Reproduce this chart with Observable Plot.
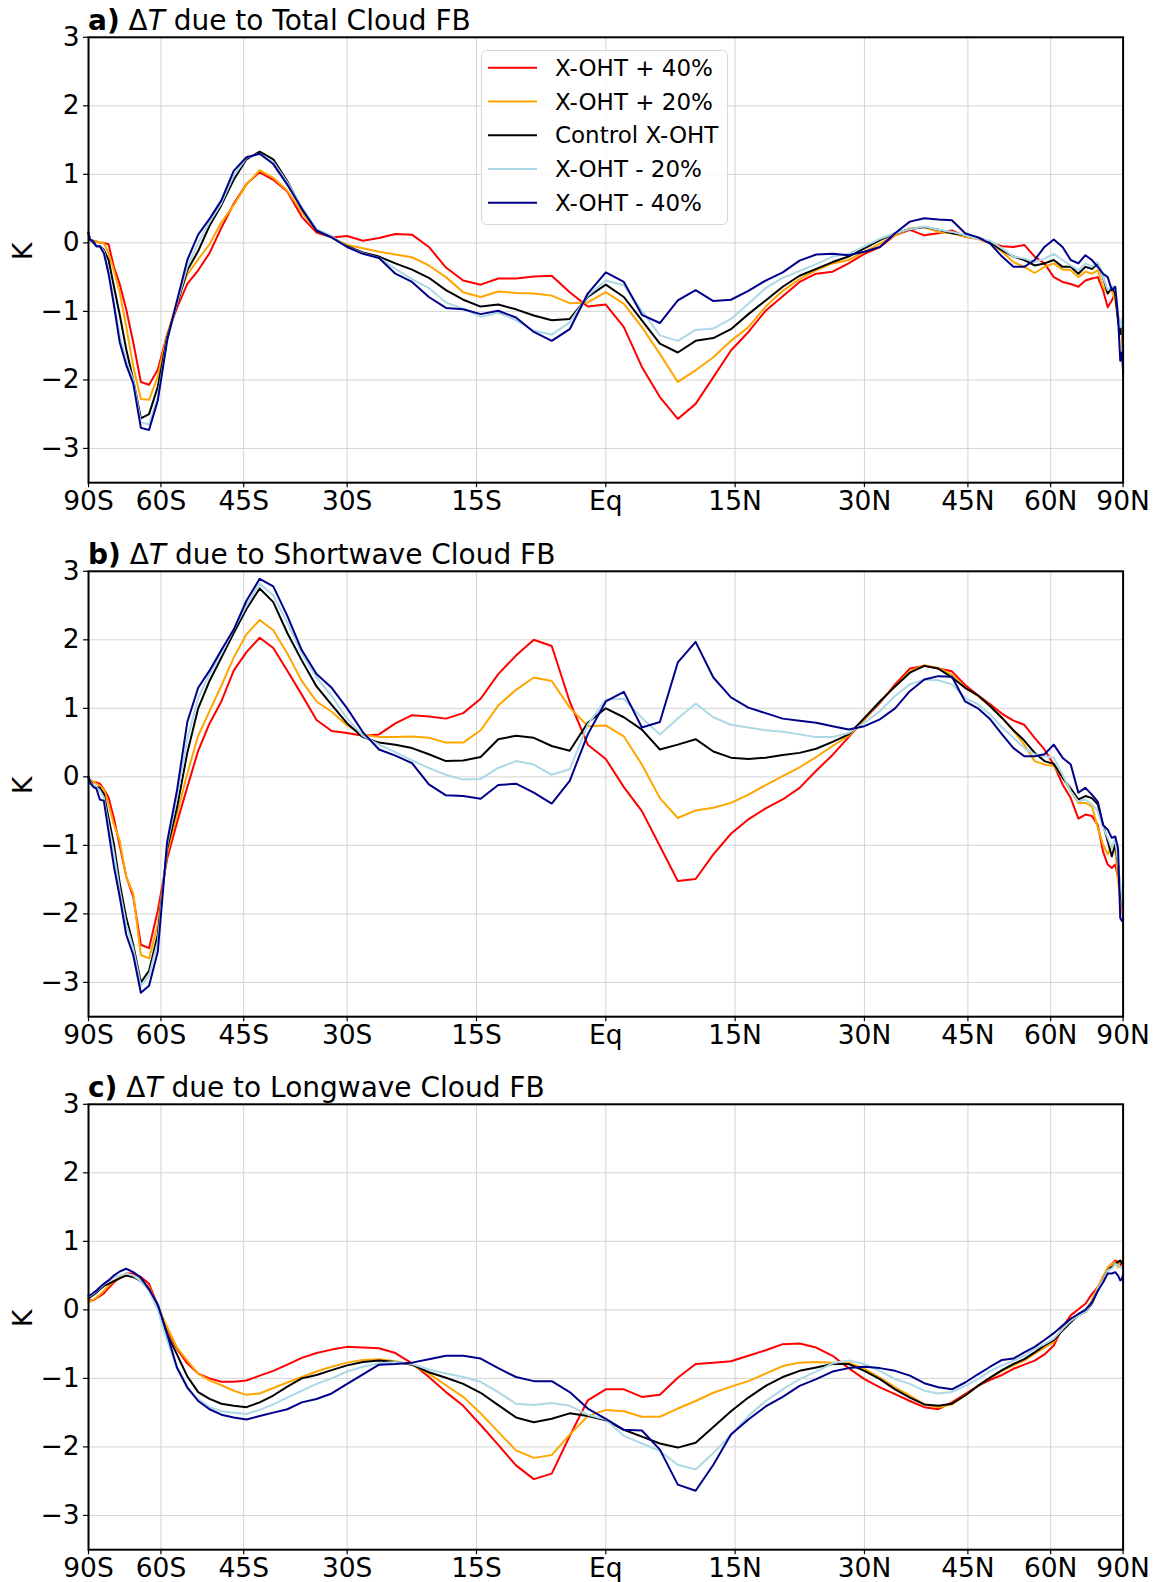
<!DOCTYPE html>
<html>
<head>
<meta charset="utf-8">
<script src="https://cdn.jsdelivr.net/npm/d3@7"></script>
<script src="https://cdn.jsdelivr.net/npm/@observablehq/plot@0.6"></script>
<style>
  html, body { margin: 0; padding: 0; background: #fff; overflow: hidden; }
  #page { position: relative; width: 1161px; height: 1582px; font-family: "DejaVu Sans", sans-serif; }
  .panel { position: absolute; left: 0; }
</style>
</head>
<body>
<div id="page"></div>
<script>
// Latitudes (degrees) at which every profile is given
const LAT = [-90,-86,-82,-80,-78,-76,-74,-72,-70,-68,-66,-64,-62,-60,
  -58,-56,-54,-52,-50,-48,-46,-44,-42,-40,-38,-36,-34,-32,
  -30,-28,-26,-24,-22,-20,-18,-16,-14,-12,-10,-8,-6,-4,
  -2,0,2,4,6,8,10,12,14,16,18,20,22,24,
  26,28,30,32,34,36,38,40,42,44,46,48,50,52,
  54,56,58,60,62,64,66,68,70,72,74,76,78,80,
  82,84,86,88,90];

const SERIES = ["X-OHT + 40%", "X-OHT + 20%", "Control X-OHT", "X-OHT - 20%", "X-OHT - 40%"];
const COLORS = ["red", "orange", "black", "lightblue", "darkblue"];

// x-axis ticks, placed on the sine-of-latitude axis
const TICK_POS = [-1, -0.86, -0.7, -0.5, -0.25, 0, 0.25, 0.5, 0.7, 0.86, 1];
const TICK_LABELS = ["90S", "60S", "45S", "30S", "15S", "Eq", "15N", "30N", "45N", "60N", "90N"];
const Y_TICKS = [-3, -2, -1, 0, 1, 2, 3];

// a) Delta T due to total cloud feedback (K)
const totP40 = [0.15,0.05,0.03,0.02,0.0,0.0,-0.02,-0.35,-0.6,-0.97,-1.45,-2.03,-2.07,-1.85,
  -1.34,-0.95,-0.6,-0.4,-0.15,0.22,0.57,0.86,1.03,0.92,0.75,0.38,0.15,0.08,
  0.1,0.03,0.07,0.13,0.12,-0.06,-0.36,-0.55,-0.61,-0.52,-0.52,-0.49,-0.48,-0.72,
  -0.93,-0.9,-1.23,-1.81,-2.25,-2.57,-2.35,-1.96,-1.57,-1.3,-0.99,-0.78,-0.57,-0.45,
  -0.42,-0.3,-0.16,-0.06,0.11,0.19,0.11,0.14,0.18,0.09,0.06,0.0,-0.05,-0.06,
  -0.03,-0.2,-0.3,-0.5,-0.57,-0.6,-0.64,-0.55,-0.52,-0.5,-0.69,-0.94,-0.84,-0.74,
  -1.08,-1.33,-1.3,-1.5,-1.8];
const totP20 = [0.12,0.05,0.03,0.02,0.0,0.0,-0.15,-0.4,-0.72,-1.22,-1.8,-2.28,-2.29,-1.95,
  -1.34,-0.85,-0.46,-0.24,-0.02,0.3,0.55,0.85,1.06,0.95,0.76,0.45,0.18,0.08,
  -0.03,-0.08,-0.13,-0.17,-0.21,-0.33,-0.5,-0.72,-0.79,-0.71,-0.73,-0.74,-0.77,-0.88,
  -0.87,-0.72,-0.89,-1.23,-1.62,-2.03,-1.86,-1.67,-1.43,-1.23,-0.93,-0.7,-0.53,-0.4,
  -0.3,-0.25,-0.13,-0.01,0.11,0.21,0.23,0.16,0.14,0.09,0.06,-0.01,-0.13,-0.28,
  -0.35,-0.44,-0.35,-0.3,-0.39,-0.4,-0.5,-0.42,-0.45,-0.4,-0.64,-0.74,-0.69,-0.84,
  -1.13,-1.33,-1.3,-1.5,-1.7];
const totCtl = [0.15,0.05,0.0,-0.05,-0.05,-0.1,-0.25,-0.63,-1.05,-1.55,-2.0,-2.56,-2.5,-2.1,
  -1.38,-0.9,-0.4,-0.12,0.25,0.55,0.92,1.22,1.33,1.22,0.9,0.5,0.18,0.08,
  -0.05,-0.14,-0.2,-0.3,-0.39,-0.51,-0.69,-0.83,-0.93,-0.9,-0.97,-1.06,-1.13,-1.11,
  -0.79,-0.61,-0.79,-1.13,-1.47,-1.6,-1.43,-1.39,-1.26,-1.04,-0.84,-0.64,-0.48,-0.38,
  -0.28,-0.2,-0.08,0.04,0.14,0.2,0.23,0.19,0.14,0.11,0.08,0.01,-0.11,-0.2,
  -0.25,-0.33,-0.3,-0.25,-0.35,-0.35,-0.45,-0.35,-0.38,-0.3,-0.5,-0.74,-0.64,-0.74,
  -1.13,-1.33,-1.2,-1.4,-1.9];
const totM20 = [0.15,0.05,0.02,-0.05,-0.05,-0.12,-0.4,-0.85,-1.35,-1.72,-2.0,-2.62,-2.65,-2.25,
  -1.42,-0.88,-0.35,0.0,0.3,0.58,0.98,1.24,1.3,1.18,0.88,0.52,0.2,0.1,
  -0.06,-0.15,-0.22,-0.38,-0.53,-0.66,-0.87,-0.96,-1.08,-1.02,-1.13,-1.28,-1.34,-1.16,
  -0.77,-0.55,-0.62,-0.99,-1.35,-1.43,-1.27,-1.25,-1.11,-0.89,-0.66,-0.51,-0.41,-0.31,
  -0.2,-0.16,-0.05,0.06,0.14,0.2,0.24,0.19,0.16,0.11,0.06,0.03,-0.08,-0.2,
  -0.23,-0.28,-0.23,-0.16,-0.25,-0.33,-0.4,-0.3,-0.35,-0.28,-0.5,-0.69,-0.64,-0.64,
  -1.03,-1.23,-1.1,-1.3,-1.7];
const totM40 = [0.15,0.05,0.02,-0.05,-0.05,-0.15,-0.45,-0.9,-1.45,-1.78,-2.05,-2.7,-2.73,-2.3,
  -1.43,-0.85,-0.25,0.12,0.35,0.62,1.05,1.25,1.3,1.15,0.85,0.5,0.18,0.08,
  -0.06,-0.16,-0.22,-0.45,-0.57,-0.79,-0.95,-0.97,-1.04,-0.99,-1.09,-1.3,-1.43,-1.26,
  -0.74,-0.43,-0.57,-1.05,-1.17,-0.84,-0.69,-0.85,-0.83,-0.7,-0.55,-0.43,-0.26,-0.17,
  -0.16,-0.18,-0.13,-0.06,0.14,0.31,0.36,0.34,0.33,0.14,0.08,-0.01,-0.2,-0.35,
  -0.35,-0.25,-0.06,0.05,-0.06,-0.25,-0.3,-0.18,-0.25,-0.35,-0.45,-0.5,-0.69,-0.64,
  -1.08,-1.72,-1.6,-1.8,-1.9];

// b) Delta T due to shortwave cloud feedback (K)
const swP40 = [0.0,-0.05,-0.08,-0.08,-0.1,-0.18,-0.3,-0.6,-1.0,-1.45,-1.75,-2.45,-2.5,-1.95,
  -1.2,-0.67,-0.15,0.38,0.78,1.1,1.55,1.82,2.03,1.88,1.55,1.2,0.83,0.67,
  0.64,0.6,0.62,0.78,0.9,0.88,0.85,0.93,1.14,1.5,1.77,2.0,1.91,1.1,
  0.47,0.26,-0.15,-0.5,-1.01,-1.52,-1.49,-1.13,-0.83,-0.62,-0.46,-0.33,-0.16,0.09,
  0.32,0.58,0.84,1.08,1.35,1.58,1.62,1.58,1.54,1.34,1.19,1.06,0.92,0.82,
  0.76,0.57,0.4,0.18,-0.11,-0.31,-0.61,-0.55,-0.57,-0.7,-1.09,-1.28,-1.33,-1.28,
  -1.47,-1.67,-1.8,-2.0,-2.1];
const swP20 = [-0.03,-0.05,-0.07,-0.1,-0.13,-0.18,-0.4,-0.69,-0.93,-1.46,-1.7,-2.6,-2.65,-2.15,
  -1.12,-0.55,0.05,0.6,0.96,1.33,1.74,2.08,2.29,2.14,1.8,1.4,1.1,0.95,
  0.75,0.62,0.58,0.58,0.59,0.57,0.5,0.5,0.68,1.04,1.27,1.45,1.4,1.01,
  0.74,0.75,0.59,0.18,-0.31,-0.6,-0.49,-0.45,-0.38,-0.26,-0.12,0.01,0.14,0.29,
  0.45,0.6,0.84,1.1,1.32,1.54,1.63,1.59,1.49,1.3,1.18,1.03,0.86,0.67,
  0.47,0.23,0.18,0.16,-0.01,-0.21,-0.38,-0.38,-0.43,-0.74,-0.99,-1.13,-0.99,-1.04,
  -1.52,-1.77,-1.85,-1.95,-2.0];
const swCtl = [0.0,-0.05,-0.13,-0.15,-0.16,-0.25,-0.6,-0.98,-1.55,-2.05,-2.45,-3.0,-2.83,-2.3,
  -1.05,-0.45,0.35,1.0,1.4,1.74,2.1,2.45,2.75,2.55,2.1,1.7,1.32,1.05,
  0.78,0.58,0.5,0.47,0.42,0.33,0.23,0.24,0.29,0.55,0.6,0.57,0.45,0.38,
  0.79,1.0,0.87,0.69,0.4,0.47,0.55,0.37,0.28,0.26,0.28,0.32,0.35,0.41,
  0.51,0.62,0.86,1.1,1.32,1.52,1.62,1.58,1.45,1.3,1.19,1.03,0.86,0.68,
  0.53,0.35,0.23,0.19,-0.01,-0.17,-0.33,-0.28,-0.31,-0.4,-0.7,-0.94,-1.16,-0.99,
  -1.28,-1.67,-1.8,-1.9,-1.95];
const swM20 = [0.0,-0.07,-0.13,-0.15,-0.2,-0.3,-0.7,-1.1,-1.65,-2.15,-2.5,-3.05,-2.9,-2.4,
  -1.0,-0.3,0.55,1.15,1.5,1.8,2.15,2.5,2.82,2.65,2.25,1.8,1.45,1.18,
  0.85,0.6,0.47,0.36,0.24,0.13,0.03,-0.04,-0.03,0.13,0.23,0.18,0.03,0.11,
  0.76,1.13,1.14,0.86,0.62,0.85,1.07,0.87,0.76,0.72,0.68,0.66,0.62,0.58,
  0.58,0.64,0.79,0.96,1.18,1.35,1.42,1.41,1.35,1.15,1.06,0.91,0.72,0.57,
  0.42,0.33,0.3,0.28,0.03,-0.21,-0.36,-0.33,-0.4,-0.5,-0.74,-0.89,-1.04,-0.89,
  -1.28,-1.57,-1.75,-1.9,-1.95];
const swM40 = [0.0,-0.08,-0.15,-0.17,-0.33,-0.35,-0.8,-1.3,-1.75,-2.3,-2.6,-3.15,-3.05,-2.55,
  -0.95,-0.2,0.8,1.3,1.55,1.85,2.15,2.57,2.89,2.78,2.35,1.85,1.5,1.3,
  1.0,0.65,0.4,0.31,0.2,-0.11,-0.27,-0.28,-0.32,-0.12,-0.1,-0.23,-0.39,-0.06,
  0.62,1.1,1.24,0.72,0.8,1.67,1.97,1.45,1.16,1.01,0.93,0.85,0.82,0.79,
  0.74,0.69,0.74,0.84,1.0,1.25,1.42,1.47,1.46,1.1,1.0,0.84,0.62,0.42,
  0.3,0.3,0.33,0.47,0.28,0.18,-0.23,-0.16,-0.26,-0.36,-0.7,-0.77,-0.89,-0.87,
  -1.04,-2.06,-2.1,-2.1,-2.1];

// c) Delta T due to longwave cloud feedback (K)
const lwP40 = [0.14,0.14,0.14,0.17,0.2,0.24,0.32,0.4,0.47,0.53,0.53,0.48,0.38,0.06,
  -0.28,-0.57,-0.78,-0.93,-1.0,-1.05,-1.05,-1.03,-0.96,-0.89,-0.8,-0.7,-0.63,-0.58,
  -0.54,-0.55,-0.56,-0.63,-0.78,-0.98,-1.2,-1.4,-1.68,-1.97,-2.27,-2.47,-2.39,-1.84,
  -1.32,-1.16,-1.16,-1.27,-1.24,-0.99,-0.79,-0.77,-0.75,-0.67,-0.59,-0.5,-0.49,-0.55,
  -0.67,-0.85,-1.01,-1.13,-1.23,-1.33,-1.42,-1.45,-1.35,-1.23,-1.11,-1.02,-0.95,-0.86,
  -0.8,-0.74,-0.65,-0.52,-0.25,-0.08,0.01,0.09,0.23,0.33,0.48,0.6,0.67,0.72,
  0.7,0.65,0.68,0.7,0.65];
const lwP20 = [0.1,0.12,0.15,0.18,0.22,0.28,0.35,0.42,0.47,0.5,0.48,0.44,0.33,0.05,
  -0.25,-0.55,-0.74,-0.93,-1.03,-1.1,-1.18,-1.24,-1.22,-1.14,-1.06,-0.98,-0.9,-0.83,
  -0.77,-0.73,-0.72,-0.75,-0.8,-0.93,-1.1,-1.27,-1.51,-1.78,-2.05,-2.16,-2.12,-1.82,
  -1.55,-1.46,-1.48,-1.56,-1.56,-1.44,-1.33,-1.21,-1.12,-1.04,-0.93,-0.82,-0.77,-0.76,
  -0.77,-0.77,-0.86,-0.99,-1.13,-1.25,-1.38,-1.42,-1.38,-1.25,-1.11,-0.99,-0.89,-0.81,
  -0.74,-0.64,-0.55,-0.47,-0.25,-0.13,-0.08,-0.03,0.14,0.33,0.48,0.62,0.67,0.7,
  0.62,0.72,0.7,0.72,0.7];
const lwCtl = [0.17,0.18,0.22,0.25,0.3,0.35,0.38,0.42,0.46,0.5,0.48,0.42,0.3,0.03,
  -0.35,-0.65,-0.97,-1.2,-1.3,-1.37,-1.4,-1.42,-1.35,-1.25,-1.12,-1.0,-0.95,-0.88,
  -0.81,-0.76,-0.74,-0.76,-0.8,-0.91,-0.99,-1.08,-1.21,-1.39,-1.57,-1.64,-1.59,-1.51,
  -1.55,-1.61,-1.75,-1.85,-1.95,-2.01,-1.94,-1.71,-1.48,-1.28,-1.11,-0.98,-0.89,-0.84,
  -0.79,-0.79,-0.89,-1.01,-1.16,-1.28,-1.38,-1.4,-1.37,-1.25,-1.11,-0.99,-0.88,-0.79,
  -0.72,-0.62,-0.52,-0.44,-0.3,-0.18,-0.08,-0.03,0.09,0.28,0.43,0.58,0.62,0.67,
  0.7,0.72,0.68,0.66,0.65];
const lwM20 = [0.2,0.2,0.24,0.27,0.32,0.37,0.42,0.47,0.5,0.53,0.5,0.42,0.28,0.0,
  -0.45,-0.85,-1.15,-1.3,-1.42,-1.48,-1.5,-1.52,-1.46,-1.38,-1.28,-1.18,-1.08,-1.0,
  -0.9,-0.83,-0.78,-0.76,-0.79,-0.87,-0.93,-0.98,-1.05,-1.2,-1.37,-1.39,-1.36,-1.4,
  -1.53,-1.6,-1.84,-1.95,-2.06,-2.26,-2.33,-2.09,-1.82,-1.55,-1.33,-1.16,-1.01,-0.9,
  -0.78,-0.74,-0.79,-0.89,-1.01,-1.08,-1.18,-1.22,-1.2,-1.11,-1.01,-0.89,-0.81,-0.74,
  -0.67,-0.57,-0.5,-0.42,-0.28,-0.16,-0.08,-0.03,0.11,0.31,0.43,0.58,0.6,0.67,
  0.65,0.62,0.62,0.6,0.6];
const lwM40 = [0.21,0.21,0.25,0.28,0.33,0.38,0.43,0.5,0.56,0.6,0.55,0.47,0.3,0.08,
  -0.35,-0.84,-1.13,-1.33,-1.45,-1.53,-1.57,-1.6,-1.55,-1.5,-1.45,-1.35,-1.3,-1.22,
  -1.08,-0.94,-0.8,-0.79,-0.77,-0.72,-0.67,-0.67,-0.71,-0.85,-0.98,-1.04,-1.04,-1.2,
  -1.44,-1.59,-1.75,-1.76,-2.04,-2.55,-2.64,-2.26,-1.82,-1.6,-1.41,-1.27,-1.11,-1.01,
  -0.9,-0.85,-0.83,-0.85,-0.89,-0.96,-1.07,-1.13,-1.16,-1.06,-0.94,-0.83,-0.73,-0.71,
  -0.62,-0.54,-0.44,-0.34,-0.23,-0.13,-0.06,0.0,0.11,0.28,0.4,0.53,0.53,0.55,
  0.5,0.43,0.45,0.5,0.4];

const PANELS = [
  {letter: "a)", what: "Total Cloud FB", values: [totP40, totP20, totCtl, totM20, totM40], legend: true},
  {letter: "b)", what: "Shortwave Cloud FB", values: [swP40, swP20, swCtl, swM20, swM40]},
  {letter: "c)", what: "Longwave Cloud FB", values: [lwP40, lwP20, lwCtl, lwM20, lwM40]}
];

const W = 1161, BLOCK = 533.7, MT = 36.8, PLOT_H = 445.4, ML = 88, MR = 38.4;
const FONT = "DejaVu Sans";
const minus = d => d < 0 ? "\u2212" + Math.abs(d) : String(d);
const rad = Math.PI / 180;

const page = document.getElementById("page");

PANELS.forEach((p, k) => {
  const rows = [];
  p.values.forEach((vals, i) => {
    vals.forEach((v, j) => rows.push({s: Math.sin(LAT[j] * rad), v, series: SERIES[i]}));
  });
  const last = k === PANELS.length - 1;
  const height = last ? 1582 - BLOCK * k : BLOCK;
  const marginBottom = height - MT - PLOT_H;

  const svg = Plot.plot({
    width: W,
    height,
    marginLeft: ML,
    marginRight: MR,
    marginTop: MT,
    marginBottom,
    style: {fontFamily: FONT, fontSize: "26px", background: "white", color: "black", overflow: "visible"},
    x: {domain: [-1, 1]},
    y: {domain: [-3.5, 3]},
    color: {domain: SERIES, range: COLORS},
    marks: [
      Plot.gridX(TICK_POS, {stroke: "#d4d4d4", strokeOpacity: 1, strokeWidth: 1}),
      Plot.gridY(Y_TICKS, {stroke: "#d4d4d4", strokeOpacity: 1, strokeWidth: 1}),
      Plot.line(rows, {x: "s", y: "v", z: "series", stroke: "series", strokeWidth: 2}),
      Plot.frame({stroke: "black", strokeWidth: 2}),
      Plot.axisX(TICK_POS, {tickFormat: d => TICK_LABELS[TICK_POS.indexOf(d)], tickSize: 5, tickPadding: 3,
        label: null, fontSize: 26.5, stroke: "black", strokeWidth: 1.2}),
      Plot.axisY(Y_TICKS, {tickFormat: minus, tickSize: 5, tickPadding: 4, label: null, fontSize: 26.5,
        stroke: "black", strokeWidth: 1.2}),
      Plot.text(["K"], {frameAnchor: "left", dx: -65, rotate: -90, text: d => d, fontSize: 26.5, fill: "black"})
    ]
  });

  // panel title: bold letter, Greek Delta, italic T
  const t = d3.select(svg).append("text")
    .attr("x", ML).attr("y", MT - 6.5).attr("text-anchor", "start")
    .attr("font-family", FONT).attr("font-size", 28).attr("fill", "black");
  t.append("tspan").attr("font-weight", "bold").text(p.letter);
  t.append("tspan").text(" \u0394");
  t.append("tspan").attr("font-style", "italic").text("T");
  t.append("tspan").text(" due to " + p.what);

  if (p.legend) {
    const g = d3.select(svg).append("g").attr("font-family", FONT).attr("font-size", 23)
      .attr("text-anchor", "start");
    g.append("rect").attr("x", 481.5).attr("y", 50.5).attr("width", 246).attr("height", 174)
      .attr("rx", 5).attr("fill", "white").attr("fill-opacity", 0.8).attr("stroke", "#d6d6d6");
    SERIES.forEach((name, i) => {
      const y = 67.7 + i * 33.75;
      g.append("line").attr("x1", 488).attr("x2", 537).attr("y1", y).attr("y2", y)
        .attr("stroke", COLORS[i]).attr("stroke-width", 2);
      g.append("text").attr("x", 555).attr("y", y).attr("dy", "0.36em").attr("fill", "black").text(name);
    });
  }

  const holder = document.createElement("div");
  holder.className = "panel";
  holder.style.top = (BLOCK * k) + "px";
  holder.appendChild(svg);
  page.appendChild(holder);
});
</script>
</body>
</html>
